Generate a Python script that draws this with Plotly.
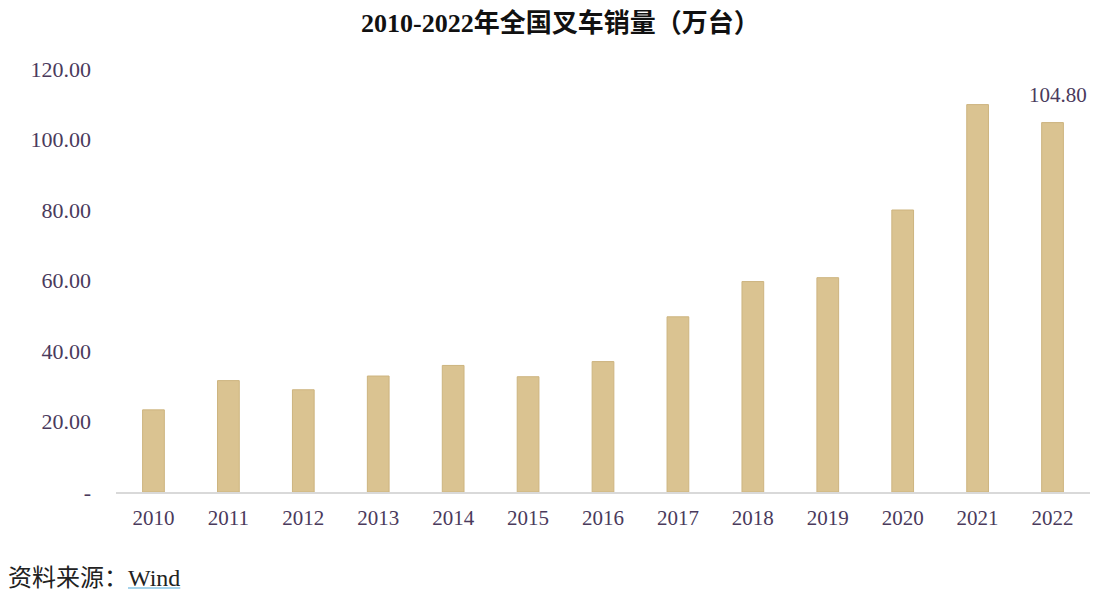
import plotly.graph_objects as go

years = [2010, 2011, 2012, 2013, 2014, 2015, 2016,
         2017, 2018, 2019, 2020, 2021, 2022]
sales = [23.3, 31.6, 29.0, 32.9, 35.9, 32.7, 37.0,
         49.7, 59.7, 60.8, 80.0, 109.9, 104.8]
tick_vals = [0, 20, 40, 60, 80, 100, 120]
tick_text = ['-', '20.00', '40.00', '60.00', '80.00', '100.00', '120.00']

SERIF = 'Liberation Serif, Times New Roman, Noto Sans CJK SC, serif'
LABEL_COLOR = '#4a3a5c'


def main():
    fig = go.Figure()
    fig.add_trace(go.Bar(x=years, y=sales,
                         width=0.29,
                         marker=dict(color='#dac391',
                                     line=dict(color='#cdb47f', width=1))))

    # only the last year gets a value label
    fig.add_annotation(x=years[-1], y=sales[-1], text=f'{sales[-1]:.2f}',
                       showarrow=False, yanchor='bottom', yshift=14, xshift=5,
                       font=dict(family=SERIF, size=21, color=LABEL_COLOR))

    fig.add_annotation(x=0.456, y=1.0, xref='paper', yref='paper',
                       text='<b>2010-2022年全国叉车销量（万台）</b>',
                       showarrow=False, xanchor='center', yanchor='bottom',
                       yshift=29,
                       font=dict(family=SERIF, size=26, color='#111111'))

    fig.add_annotation(x=-0.113, y=0, xref='paper', yref='paper',
                       text='资料来源：Wind', showarrow=False,
                       xanchor='left', yanchor='top', yshift=-71,
                       font=dict(family=SERIF, size=24, color='#222222'))
    fig.add_shape(type='line', xref='paper', yref='paper',
                  x0=0.0123, x1=0.066, y0=-0.227, y1=-0.227,
                  line=dict(color='#4fa8d8', width=1.2))

    fig.update_layout(
        width=1108, height=596,
        margin=dict(l=116, r=18, t=69, b=104),
        paper_bgcolor='white', plot_bgcolor='white',
        showlegend=False,
        font=dict(family=SERIF, size=20, color=LABEL_COLOR),
        xaxis=dict(type='linear', range=[2009.5, 2022.5], dtick=1,
                   tickformat='d', automargin=False,
                   showline=True, linecolor='#d9d9d9', linewidth=2,
                   showgrid=False, zeroline=False, ticks='',
                   ticklabelstandoff=6,
                   tickfont=dict(family=SERIF, size=21, color=LABEL_COLOR)),
        yaxis=dict(range=[0, 120], tickvals=tick_vals, ticktext=tick_text,
                   automargin=False,
                   showgrid=False, showline=False, zeroline=False,
                   ticks='', ticklabelstandoff=24,
                   tickfont=dict(family=SERIF, size=22, color=LABEL_COLOR)),
    )
    fig.write_html('out.html', config={'displayModeBar': False},
                   post_script="document.body.style.margin='0';")


if __name__ == '__main__':
    main()
